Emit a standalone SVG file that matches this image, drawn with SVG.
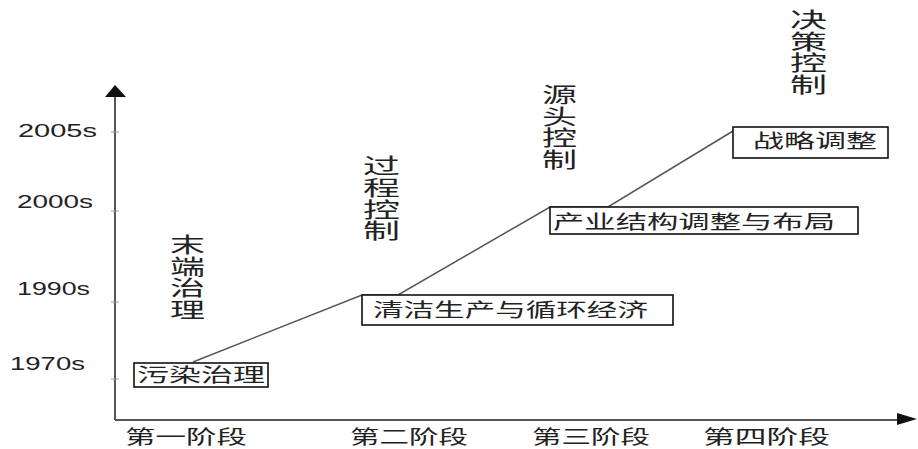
<svg xmlns="http://www.w3.org/2000/svg" width="918" height="449" viewBox="0 0 918 449">
<style>
.axis{stroke:#555;stroke-width:2;fill:none}
.tick{stroke:#999;stroke-width:1}
.head{fill:#111}
.box{fill:#fff;stroke:#111;stroke-width:1.6}
.conn{stroke:#555;stroke-width:1.5;fill:none}
.cn{font-family:"Noto Sans CJK SC","Noto Sans",sans-serif;fill:#222}
.bt{font-size:19px}
.vt{font-size:21px;dominant-baseline:central}
.yr{font-family:"Liberation Sans",Arial,sans-serif;font-size:18px;fill:#222}
</style>
<rect width="918" height="449" fill="#fff"/>
<g id="axes">
<line class="axis" x1="115" y1="93" x2="115" y2="420"/>
<line class="axis" x1="115" y1="420" x2="900" y2="420"/>
<polygon class="head" points="115,85 105,97 126,97"/>
<polygon class="head" points="917,419 897,413 897,425"/>
<line class="tick" x1="111" y1="132" x2="119" y2="132"/>
<line class="tick" x1="111" y1="211" x2="119" y2="211"/>
<line class="tick" x1="111" y1="302" x2="119" y2="302"/>
<line class="tick" x1="111" y1="379" x2="119" y2="379"/>
</g>
<g id="year-labels">
<text class="yr" x="18" y="137" textLength="79" lengthAdjust="spacingAndGlyphs">2005s</text>
<text class="yr" x="17" y="208" textLength="76" lengthAdjust="spacingAndGlyphs">2000s</text>
<text class="yr" x="17" y="295" textLength="73" lengthAdjust="spacingAndGlyphs">1990s</text>
<text class="yr" x="10" y="370" textLength="75" lengthAdjust="spacingAndGlyphs">1970s</text>
</g>
<g id="connectors">
<polyline class="conn" points="193,362 362,295 398,295 550,207 608,207 733,131"/>
</g>
<g id="node-wuran">
<rect class="box" x="134" y="363" width="134" height="24"/>
<text class="cn bt" x="137" y="382" textLength="128" lengthAdjust="spacingAndGlyphs">污染治理</text>
</g>
<g id="node-qingjie">
<rect class="box" x="362" y="295" width="311" height="30"/>
<text class="cn bt" x="373" y="317" textLength="275" lengthAdjust="spacingAndGlyphs">清洁生产与循环经济</text>
</g>
<g id="node-chanye">
<rect class="box" x="550" y="207" width="308" height="27"/>
<text class="cn bt" x="553" y="229" textLength="282" lengthAdjust="spacingAndGlyphs">产业结构调整与布局</text>
</g>
<g id="node-zhanlue">
<rect class="box" x="733" y="127" width="155" height="31"/>
<text class="cn bt" x="753" y="148" textLength="124" lengthAdjust="spacingAndGlyphs">战略调整</text>
</g>
<g id="label-moduan">
<text class="cn vt" x="170" y="243" textLength="35" lengthAdjust="spacingAndGlyphs">末</text>
<text class="cn vt" x="170" y="264.5" textLength="35" lengthAdjust="spacingAndGlyphs">端</text>
<text class="cn vt" x="170" y="286" textLength="35" lengthAdjust="spacingAndGlyphs">治</text>
<text class="cn vt" x="170" y="307.5" textLength="35" lengthAdjust="spacingAndGlyphs">理</text>
</g>
<g id="label-guocheng">
<text class="cn vt" x="363" y="164" textLength="37" lengthAdjust="spacingAndGlyphs">过</text>
<text class="cn vt" x="363" y="186" textLength="37" lengthAdjust="spacingAndGlyphs">程</text>
<text class="cn vt" x="363" y="207.5" textLength="37" lengthAdjust="spacingAndGlyphs">控</text>
<text class="cn vt" x="363" y="229" textLength="37" lengthAdjust="spacingAndGlyphs">制</text>
</g>
<g id="label-yuantou">
<text class="cn vt" x="542" y="93" textLength="35" lengthAdjust="spacingAndGlyphs">源</text>
<text class="cn vt" x="542" y="114.5" textLength="35" lengthAdjust="spacingAndGlyphs">头</text>
<text class="cn vt" x="542" y="136" textLength="35" lengthAdjust="spacingAndGlyphs">控</text>
<text class="cn vt" x="542" y="157.5" textLength="35" lengthAdjust="spacingAndGlyphs">制</text>
</g>
<g id="label-juece">
<text class="cn vt" x="790" y="18" textLength="37" lengthAdjust="spacingAndGlyphs">决</text>
<text class="cn vt" x="790" y="39.5" textLength="37" lengthAdjust="spacingAndGlyphs">策</text>
<text class="cn vt" x="790" y="61" textLength="37" lengthAdjust="spacingAndGlyphs">控</text>
<text class="cn vt" x="790" y="82.5" textLength="37" lengthAdjust="spacingAndGlyphs">制</text>
</g>
<g id="stage-labels">
<text class="cn bt" x="125" y="444" textLength="122" lengthAdjust="spacingAndGlyphs">第一阶段</text>
<text class="cn bt" x="350" y="444" textLength="118" lengthAdjust="spacingAndGlyphs">第二阶段</text>
<text class="cn bt" x="532" y="444" textLength="118" lengthAdjust="spacingAndGlyphs">第三阶段</text>
<text class="cn bt" x="703" y="444" textLength="127" lengthAdjust="spacingAndGlyphs">第四阶段</text>
</g>
</svg>
